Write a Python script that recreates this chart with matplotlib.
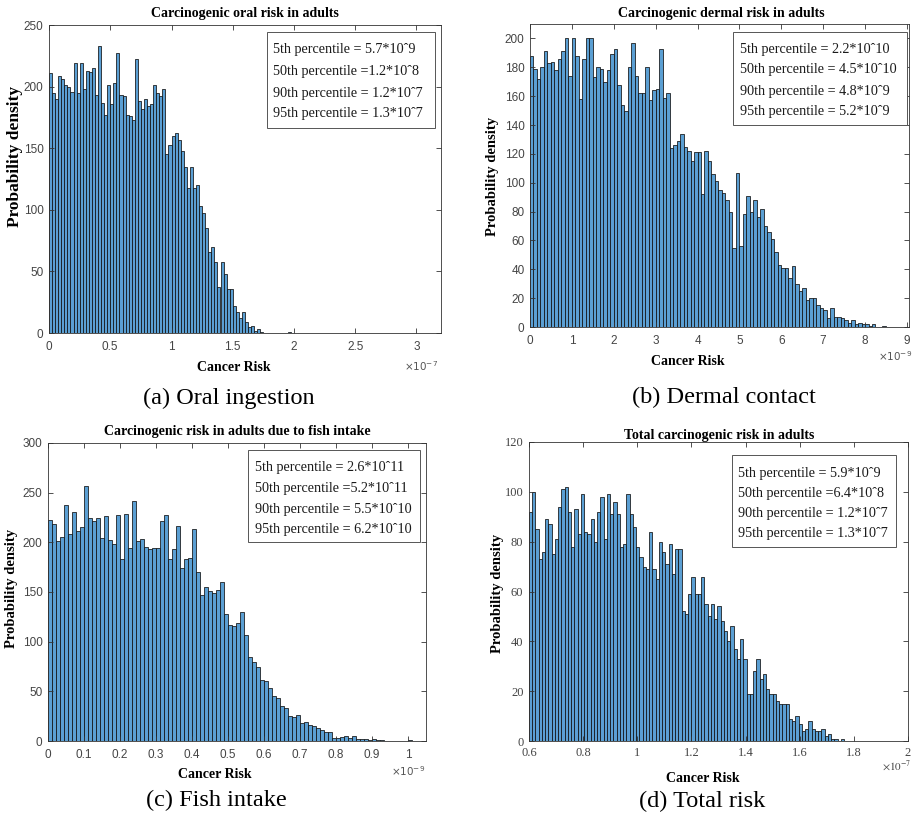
import numpy as np
import matplotlib
matplotlib.use("Agg")
import matplotlib.pyplot as plt
from matplotlib.patches import Rectangle
from matplotlib.ticker import FuncFormatter

# ---- data (counts per bin) ----
# (a) oral ingestion, x in units of 1e-7
oral_start, oral_width = 0.0, 0.025
oral_counts = [211, 195, 190, 209, 206, 201, 200, 196, 219, 195,
               219, 198, 213, 212, 215, 193, 233, 187, 177, 201,
               186, 203, 227, 193, 192, 177, 176, 173, 222, 188,
               182, 190, 184, 186, 201, 195, 192, 198, 145, 153,
               160, 162, 157, 148, 135, 118, 135, 118, 120, 103,
               97, 85, 66, 70, 58, 37, 58, 48, 36, 36,
               22, 17, 12, 17, 9, 5, 6, 2, 3, 1,
               0, 0, 0, 0, 0, 0, 0, 0, 1]

# (b) dermal contact, x in units of 1e-9
dermal_start, dermal_width = 0.0, 1 / 12
dermal_counts = [188, 179, 172, 180, 191, 183, 184, 178, 186, 191, 200, 174,
                 200, 188, 158, 186, 200, 200, 173, 180, 179, 170, 178, 189,
                 193, 168, 154, 150, 180, 197, 174, 162, 162, 180, 157, 164,
                 165, 193, 159, 162, 124, 126, 129, 134, 125, 122, 115, 121,
                 121, 92, 122, 115, 106, 101, 95, 93, 88, 80, 55, 107,
                 56, 78, 91, 80, 88, 76, 82, 70, 66, 61, 52, 43,
                 41, 41, 34, 42, 30, 25, 27, 19, 20, 20, 15, 13,
                 12, 6, 13, 7, 7, 6, 5, 3, 5, 2, 3, 2,
                 2, 1, 2, 0, 0, 1]

# (c) fish intake, x in units of 1e-9
fish_start, fish_width = 0.0, 1 / 90
fish_counts = [222, 218, 201, 205, 238, 208, 231, 211, 215,
               257, 225, 221, 225, 204, 227, 202, 198, 228,
               183, 229, 194, 242, 201, 203, 195, 193, 194,
               194, 221, 228, 183, 193, 216, 174, 183, 184,
               213, 170, 147, 155, 151, 149, 152, 160, 128,
               117, 116, 119, 130, 107, 85, 80, 75, 61,
               60, 53, 45, 43, 35, 33, 25, 24, 26,
               18, 19, 16, 15, 13, 11, 9, 9, 3,
               3, 4, 5, 3, 5, 2, 2, 2, 1,
               2, 1, 1, 0, 0, 0, 0, 0, 0, 1]

# (d) total risk, x in units of 1e-7
total_start, total_width = 0.6, 0.012
total_counts = [92, 100, 85, 73, 76, 89, 87, 75, 81, 94,
                101, 102, 92, 78, 93, 83, 99, 84, 83, 89,
                80, 92, 98, 81, 99, 91, 96, 91, 78, 79,
                99, 91, 86, 78, 74, 70, 69, 84, 69, 65,
                80, 76, 71, 79, 67, 77, 77, 52, 51, 59,
                66, 59, 59, 66, 55, 50, 55, 49, 54, 48,
                44, 40, 46, 37, 33, 41, 33, 19, 19, 28,
                33, 25, 27, 21, 19, 19, 16, 15, 15, 15,
                9, 8, 10, 7, 4, 5, 8, 5, 4, 4,
                5, 2, 3, 1, 1, 0, 1]

titles = ["Carcinogenic oral risk in adults",
          "Carcinogenic dermal risk in adults",
          "Carcinogenic risk in adults due to fish intake",
          "Total carcinogenic risk in adults"]
captions = ["(a) Oral ingestion", "(b) Dermal contact",
            "(c) Fish intake", "(d) Total risk"]
percentile_lines = [
    ["5th percentile = 5.7*10ˆ9", "50th percentile =1.2*10ˆ8",
     "90th percentile = 1.2*10ˆ7", "95th percentile = 1.3*10ˆ7"],
    ["5th percentile = 2.2*10ˆ10", "50th percentile = 4.5*10ˆ10",
     "90th percentile = 4.8*10ˆ9", "95th percentile = 5.2*10ˆ9"],
    ["5th percentile = 2.6*10ˆ11", "50th percentile =5.2*10ˆ11",
     "90th percentile = 5.5*10ˆ10", "95th percentile = 6.2*10ˆ10"],
    ["5th percentile = 5.9*10ˆ9", "50th percentile =6.4*10ˆ8",
     "90th percentile = 1.2*10ˆ7", "95th percentile = 1.3*10ˆ7"],
]
exponents = [-7, -9, -9, -7]

# ---- layout (pixels in the 917x817 picture) ----
W, H = 917, 817
SERIF = "Liberation Serif"
SANS = "Liberation Sans"
BAR = "#5b9fd3"
AXC = "#333333"

panels = [
    dict(counts=oral_counts, start=oral_start, width=oral_width,
         box=(49, 25, 441, 333), xlim=(0, 3.2), ylim=(0, 250),
         xticks=np.arange(0, 3.01, 0.5), yticks=np.arange(0, 251, 50),
         tickfont=SANS, ylab=(15, 156), ylabsize=12.5, xlab=(234, 367),
         title=(245, 14), caption=(229, 398), expo=(438, 366),
         legbox=(267, 32, 435, 128), legx=273, legy=[50, 72, 93, 114]),
    dict(counts=dermal_counts, start=dermal_start, width=dermal_width,
         box=(530, 24, 909, 327), xlim=(0, 9.05), ylim=(0, 210),
         xticks=np.arange(0, 10, 1), yticks=np.arange(0, 201, 20),
         tickfont=SANS, ylab=(493, 176), ylabsize=10.5, xlab=(688, 362),
         title=(721, 13), caption=(724, 397), expo=(912, 356),
         legbox=(733, 32, 907, 125), legx=740, legy=[49, 70, 91, 111]),
    dict(counts=fish_counts, start=fish_start, width=fish_width,
         box=(48, 443, 426, 741), xlim=(0, 1.05), ylim=(0, 300),
         xticks=np.arange(0, 1.01, 0.1), yticks=np.arange(0, 301, 50),
         tickfont=SANS, ylab=(12, 588), ylabsize=10.5, xlab=(215, 775),
         title=(237, 432), caption=(216, 800), expo=(425, 771),
         legbox=(248, 450, 420, 542), legx=255, legy=[467, 488, 509, 530]),
    dict(counts=total_counts, start=total_start, width=total_width,
         box=(529, 442, 908, 741), xlim=(0.6, 2.0), ylim=(0, 120),
         xticks=np.arange(0.6, 2.01, 0.2), yticks=np.arange(0, 121, 20),
         tickfont=SERIF, ylab=(497, 593), ylabsize=10.5, xlab=(703, 778),
         title=(719, 435), caption=(702, 801), expo=(911, 766),
         legbox=(732, 455, 896, 547), legx=738, legy=[473, 493, 513, 533]),
]


def fx(px):
    return px / W


def fy(py):
    return 1 - py / H


fmt = FuncFormatter(lambda v, pos: f"{round(v, 6):g}")

fig = plt.figure(figsize=(W / 100, H / 100), dpi=100)

for i, p in enumerate(panels):
    l, t, r, b = p["box"]
    ax = fig.add_axes([fx(l), fy(b), (r - l) / W, (b - t) / H])

    counts = np.array(p["counts"], dtype=float)
    lefts = p["start"] + p["width"] * np.arange(len(counts))
    ax.bar(lefts, counts, width=p["width"], align="edge", color=BAR,
           edgecolor="#111111", linewidth=0.55)

    ax.set_xlim(*p["xlim"])
    ax.set_ylim(*p["ylim"])
    ax.set_xticks(p["xticks"])
    ax.set_yticks(p["yticks"])
    ax.xaxis.set_major_formatter(fmt)
    ax.yaxis.set_major_formatter(fmt)
    serif_ticks = p["tickfont"] == SERIF
    ax.tick_params(direction="in", top=True, right=True, length=3.5,
                   width=0.6, color=AXC, labelcolor="#444444",
                   labelsize=9 if serif_ticks else 8.5)
    ax.tick_params(axis="x", pad=4 if serif_ticks else 6)
    ax.tick_params(axis="y", pad=4)
    for lab in ax.get_xticklabels() + ax.get_yticklabels():
        lab.set_fontfamily(p["tickfont"])
    for s in ax.spines.values():
        s.set_color(AXC)
        s.set_linewidth(0.6)

    # axis labels, titles, captions
    fig.text(fx(p["ylab"][0]), fy(p["ylab"][1]), "Probability density",
             rotation=90, ha="center", va="center", family=SERIF,
             weight="bold", fontsize=p["ylabsize"])
    fig.text(fx(p["xlab"][0]), fy(p["xlab"][1]), "Cancer Risk",
             ha="center", va="center", family=SERIF, weight="bold",
             fontsize=10)
    fig.text(fx(p["title"][0]), fy(p["title"][1]), titles[i],
             ha="center", va="center", family=SERIF, weight="bold",
             fontsize=10)
    fig.text(fx(p["caption"][0]), fy(p["caption"][1]), captions[i],
             ha="center", va="center", family=SERIF, fontsize=17.5)
    if serif_ticks:
        fig.text(fx(p["expo"][0]), fy(p["expo"][1]),
                 r"$\times10^{%d}$" % exponents[i], ha="right", va="center",
                 fontsize=8, color="#444444", math_fontfamily="stix")
    else:
        fig.text(fx(p["expo"][0]), fy(p["expo"][1]),
                 r"$\times10^{%d}$" % exponents[i], ha="right", va="center",
                 fontsize=7.5, color="#555555")

    # percentile box
    bl, bt, br, bb = p["legbox"]
    fig.patches.append(Rectangle((fx(bl), fy(bb)), (br - bl) / W,
                                 (bb - bt) / H, transform=fig.transFigure,
                                 facecolor="white", edgecolor="#555555",
                                 linewidth=0.7, zorder=5))
    for line, y in zip(percentile_lines[i], p["legy"]):
        fig.text(fx(p["legx"]), fy(y), line, ha="left", va="center",
                 family=SERIF, fontsize=10.2, color="#1a1a1a", zorder=6)

fig.savefig("out.png", dpi=100)
